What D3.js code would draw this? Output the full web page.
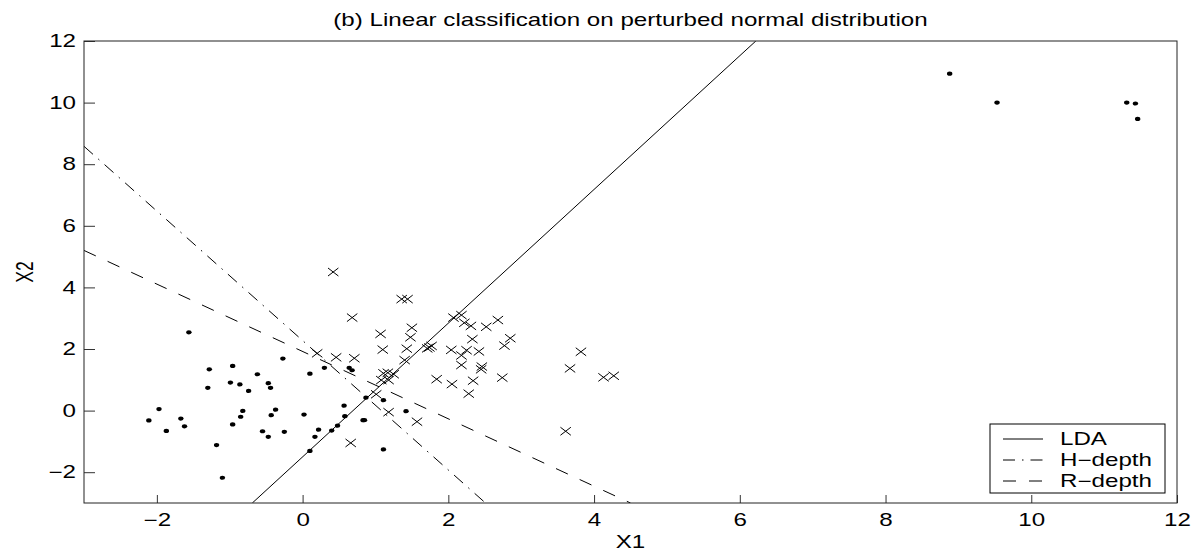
<!DOCTYPE html>
<html>
<head>
<meta charset="utf-8">
<script src="https://cdn.jsdelivr.net/npm/d3@7/dist/d3.min.js"></script>
<style>
  body { margin: 0; background: white; }
  svg { display: block; }
  text { font-family: 'Liberation Sans', Arial, Helvetica, sans-serif; fill: black; }
</style>
</head>
<body>
<div id="chart"></div>
<script>
// class 1 (dots) and class 2 (crosses)
var dotsX1 = [-1.56,-1.28,-0.96,-0.27,-0.62,-1.30,-0.99,-0.86,-0.74,-0.47,-0.44,0.10,0.30,0.64,0.68,
  -1.97,-2.11,-1.87,-1.67,-1.62,-0.82,-0.85,-0.96,-0.37,-0.43,-0.55,-0.47,-0.25,-1.18,-1.10,
  0.02,0.57,0.58,0.22,0.17,0.40,0.48,0.10,0.87,0.83,0.85,1.11,1.42,1.11,
  8.88,9.53,11.31,11.43,11.46]
var dotsX2 = [2.54,1.34,1.45,1.69,1.18,0.74,0.91,0.85,0.64,0.89,0.74,1.20,1.39,1.39,1.31,
  0.05,-0.32,-0.66,-0.26,-0.51,-0.01,-0.20,-0.45,0.03,-0.15,-0.67,-0.85,-0.69,-1.12,-2.18,
  -0.13,0.16,-0.18,-0.62,-0.85,-0.65,-0.49,-1.31,0.42,-0.31,-0.31,0.34,-0.02,-1.26,
  10.94,10.0,10.0,9.97,9.47]
var crossX1 = [0.42,0.68,0.66,0.20,0.46,0.71,1.36,1.44,1.07,1.50,1.48,1.10,1.43,1.71,1.77,1.74,1.40,
  1.11,1.17,1.08,1.18,1.25,1.01,1.18,1.57,2.07,2.18,2.22,2.31,2.52,2.68,2.33,2.85,2.77,
  2.04,2.25,2.42,2.18,2.18,2.46,2.45,1.84,2.05,2.34,2.74,2.28,3.82,3.67,4.13,4.27,3.61]
var crossX2 = [4.50,3.02,-1.05,1.86,1.73,1.70,3.62,3.62,2.49,2.69,2.38,1.98,2.01,2.02,2.10,2.05,1.64,
  1.21,1.23,0.99,0.99,1.18,0.53,-0.05,-0.36,3.02,3.10,2.85,2.75,2.72,2.94,2.32,2.35,2.11,
  1.97,1.96,1.92,1.79,1.48,1.43,1.34,1.02,0.86,0.97,1.07,0.55,1.91,1.37,1.08,1.13,-0.67]

// the three separating lines, as end points
var lineNames = ['LDA','H-depth','R-depth']
var lineX1 = [[-0.69, 6.22], [-3, 2.51], [-3, 4.5]]
var lineX2 = [[-3, 12], [8.58, -3], [5.2, -3]]
var lineDash = [null, '12,7,1.5,7', '13,13']

var xTicks = [-2,0,2,4,6,8,10,12]
var yTicks = [-2,0,2,4,6,8,10,12]

var width = 1192, height = 551
var sx = 1.38  // the original figure is stretched sideways
var fs = 17.5
var margin = {left: 84, right: 15, top: 41, bottom: 48}

var svg = d3.select('#chart').append('svg')
	.attr('width', width)
	.attr('height', height)

var x = d3.scaleLinear().domain([-3,12]).range([margin.left, width - margin.right])
var y = d3.scaleLinear().domain([-3,12]).range([height - margin.bottom, margin.top])

var plot = svg.append('g')

// axes, ticks pointing inwards
var xAxis = svg.append('g')
	.attr('transform', 'translate(0,' + y(-3) + ')')
	.call(d3.axisBottom(x).tickValues(xTicks).tickSizeInner(-8).tickSizeOuter(0).tickPadding(10.5))
var yAxis = svg.append('g')
	.attr('transform', 'translate(' + x(-3) + ',0)')
	.call(d3.axisLeft(y).tickValues(yTicks).tickSizeInner(-11).tickSizeOuter(0).tickPadding(8))

svg.selectAll('.domain').remove()
svg.selectAll('.tick line').attr('stroke', '#333').attr('stroke-width', 1)
xAxis.selectAll('.tick text')
	.style('font-size', fs + 'px')
	.attr('transform', 'scale(' + sx + ',1)')
yAxis.selectAll('.tick text')
	.style('font-size', fs + 'px')
	.attr('x', -8 / sx)
	.attr('transform', 'scale(' + sx + ',1)')

// frame
svg.append('rect')
	.attr('x', x(-3))
	.attr('y', y(12))
	.attr('width', x(12) - x(-3))
	.attr('height', y(-3) - y(12))
	.attr('fill', 'none')
	.attr('stroke', '#222')
	.attr('stroke-width', 1)

// lines
var clip = svg.append('clipPath').attr('id', 'clip').append('rect')
	.attr('x', x(-3)).attr('y', y(12))
	.attr('width', x(12) - x(-3)).attr('height', y(-3) - y(12))

plot.attr('clip-path', 'url(#clip)')
lineNames.forEach(function(n, i){
	plot.append('line')
		.attr('x1', x(lineX1[i][0]))
		.attr('y1', y(lineX2[i][0]))
		.attr('x2', x(lineX1[i][1]))
		.attr('y2', y(lineX2[i][1]))
		.attr('stroke', 'black')
		.attr('stroke-width', 1)
		.attr('stroke-dasharray', lineDash[i])
})

// dots
plot.selectAll('.dot')
	.data(d3.range(dotsX1.length))
	.enter()
	.append('ellipse')
	.attr('class', 'dot')
	.attr('cx', function(i){ return x(dotsX1[i]) })
	.attr('cy', function(i){ return y(dotsX2[i]) })
	.attr('rx', 2.7)
	.attr('ry', 2.1)
	.attr('fill', 'black')

// crosses
var cw = 5.2, ch = 4
plot.selectAll('.cross')
	.data(d3.range(crossX1.length))
	.enter()
	.append('path')
	.attr('class', 'cross')
	.attr('d', function(i){
		var cx = x(crossX1[i]), cy = y(crossX2[i])
		return 'M' + (cx-cw) + ',' + (cy-ch) + 'L' + (cx+cw) + ',' + (cy+ch) +
			'M' + (cx-cw) + ',' + (cy+ch) + 'L' + (cx+cw) + ',' + (cy-ch)
	})
	.attr('stroke', 'black')
	.attr('stroke-width', 1)
	.attr('fill', 'none')

// title and axis labels
var cx0 = (x(-3) + x(12)) / 2
svg.append('text')
	.attr('transform', 'translate(' + cx0 + ',26) scale(' + sx + ',1)')
	.attr('text-anchor', 'middle')
	.style('font-size', fs + 'px')
	.text('(b) Linear classification on perturbed normal distribution')
svg.append('text')
	.attr('transform', 'translate(' + cx0 + ',548) scale(' + sx + ',1)')
	.attr('text-anchor', 'middle')
	.style('font-size', fs + 'px')
	.text('X1')
svg.append('text')
	.attr('transform', 'translate(33,' + (y(-3) + y(12)) / 2 + ') rotate(-90) scale(1,' + sx + ')')
	.attr('text-anchor', 'middle')
	.style('font-size', fs + 'px')
	.text('X2')

// legend
var legend = svg.append('g')
legend.append('rect')
	.attr('x', 990)
	.attr('y', 424)
	.attr('width', 175)
	.attr('height', 69)
	.attr('fill', 'white')
	.attr('stroke', 'black')
	.attr('stroke-width', 1)
lineNames.forEach(function(n, i){
	var by = 445 + i * 21
	legend.append('line')
		.attr('x1', 1003).attr('x2', 1043)
		.attr('y1', by - 6).attr('y2', by - 6)
		.attr('stroke', 'black')
		.attr('stroke-width', 1)
		.attr('stroke-dasharray', lineDash[i])
	legend.append('text')
		.attr('transform', 'translate(1060,' + by + ') scale(' + sx + ',1)')
		.style('font-size', fs + 'px')
		.text(n.replace('-', '\u2212'))
})
</script>
</body>
</html>
